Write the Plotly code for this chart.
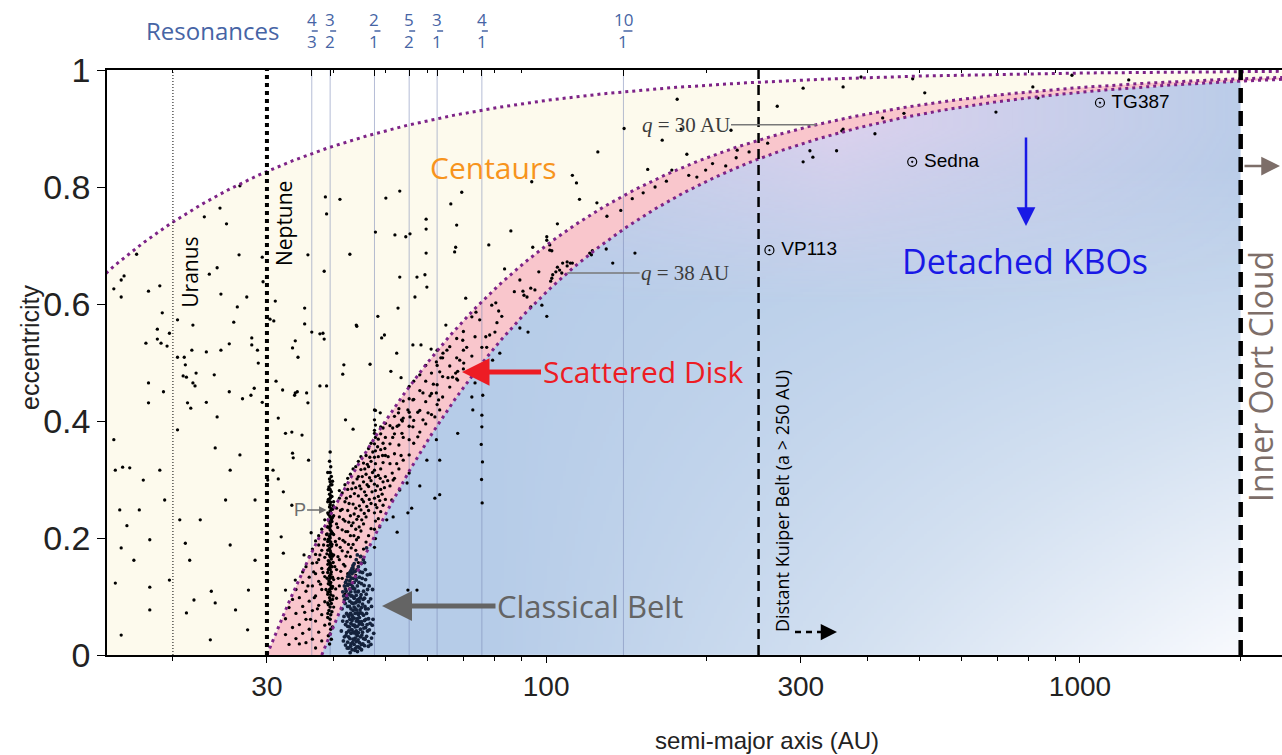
import numpy as np
import plotly.graph_objects as go

# ---------------- data ----------------
X_RANGE = [15.05, 2390.0]
Q_BOUNDS = [5.2, 30.0, 38.0]          # perihelion curves q = a(1-e)
URANUS_A = 20.0
NEPTUNE_A = 30.0
DKB_A = 250.0
IOC_A = 2000.0
RES_A = [36.4, 39.4, 47.7, 55.4, 62.5, 75.8, 139.6]
RES_NUM = ["4", "3", "2", "5", "3", "4", "10"]
RES_DEN = ["3", "2", "1", "2", "1", "1", "1"]
X_TICKS = [30, 100, 300, 1000]
X_TICKTEXT = ["30", "100", "300", "1000"]
X_MINOR = [20, 40, 50, 60, 70, 80, 90, 200, 400, 500, 600, 700, 800, 900, 2000]
Y_TICKS = [0, 0.2, 0.4, 0.6, 0.8, 1.0]
Y_TICKTEXT = ["0", "0.2", "0.4", "0.6", "0.8", "1"]
NAMED = ["VP113", "Sedna", "TG387"]
NAMED_A = [262, 485, 1090]
NAMED_E = [0.692, 0.843, 0.944]

CREAM_LEFT = [
    (26.7, 0.802), (24.5, 0.764), (22.9, 0.749), (25.2, 0.737), (17.1, 0.685), (26.6, 0.684), (29.4, 0.680),
    (24.2, 0.662), (23.4, 0.651), (16.2, 0.648), (16.0, 0.641), (15.5, 0.626), (18.9, 0.631), (18.0, 0.622),
    (16.0, 0.612), (24.6, 0.617), (27.5, 0.612), (29.5, 0.638), (26.4, 0.595), (31.1, 0.605), (19.1, 0.585),
    (20.4, 0.573), (21.8, 0.564), (26.0, 0.569), (30.4, 0.574), (30.9, 0.571), (18.7, 0.557), (19.7, 0.550),
    (28.1, 0.542), (17.8, 0.533), (18.7, 0.540), (19.0, 0.533), (19.5, 0.528), (25.5, 0.532), (28.1, 0.530),
    (21.7, 0.521), (23.1, 0.518), (24.6, 0.521), (28.8, 0.521), (20.4, 0.509), (21.0, 0.509), (21.1, 0.496),
    (28.9, 0.499), (22.1, 0.482), (20.9, 0.477), (21.2, 0.475), (23.9, 0.479), (18.0, 0.465), (21.8, 0.465),
    (22.0, 0.460), (31.2, 0.468), (19.2, 0.450), (25.5, 0.450), (28.4, 0.456), (28.0, 0.444), (27.0, 0.438),
    (18.0, 0.431), (21.3, 0.431), (21.6, 0.422), (23.1, 0.432), (29.4, 0.432), (24.2, 0.407), (31.5, 0.405),
    (15.5, 0.368), (16.1, 0.321), (15.6, 0.316), (16.6, 0.320), (17.6, 0.299), (16.4, 0.221), (16.0, 0.183),
    (18.1, 0.197), (21.1, 0.191), (15.6, 0.123), (18.1, 0.116), (16.0, 0.034), (21.2, 0.072), (23.6, 0.109),
    (24.0, 0.089), (21.5, 0.162), (25.6, 0.316), (26.7, 0.342), (28.5, 0.265), (22.5, 0.231), (25.6, 0.188),
    (28.5, 0.162), (27.7, 0.111), (20.4, 0.385), (24.0, 0.354), (18.9, 0.316), (19.3, 0.265), (17.3, 0.248),
    (25.1, 0.265), (20.6, 0.231), (27.6, 0.043), (23.5, 0.026), (26.2, 0.077), (18.1, 0.077), (19.7, 0.128),
    (21.9, 0.094), (15.9, 0.248), (16.9, 0.162),
    (32.1, 0.453), (33.9, 0.448), (32.5, 0.379), (33.4, 0.381), (34.9, 0.376), (33.5, 0.345), (33.6, 0.337),
    (35.9, 0.333), (30.8, 0.316), (31.5, 0.301), (30.1, 0.299), (32.2, 0.279), (33.4, 0.256), (36.3, 0.209),
    (31.9, 0.202), (32.2, 0.174), (35.2, 0.171), (32.5, 0.111), (33.9, 0.128),
]

CREAM_MID = [
    (38.6, 0.783), (41.1, 0.779), (38.8, 0.754), (42.9, 0.685), (35.8, 0.684), (38.4, 0.656), (35.3, 0.593),
    (35.3, 0.566), (36.4, 0.552), (37.7, 0.549), (38.2, 0.550), (38.4, 0.540), (33.5, 0.525), (33.9, 0.537),
    (34.3, 0.509), (41.8, 0.496), (41.6, 0.480), (37.7, 0.460), (38.8, 0.460), (34.2, 0.450), (33.8, 0.444),
    (35.6, 0.448), (35.8, 0.431), (44.1, 0.564),
    (53.2, 0.793), (69.5, 0.791), (50.1, 0.781), (66.3, 0.771), (114, 0.807), (94.0, 0.809), (115.5, 0.779),
    (124.5, 0.773), (105, 0.737), (85.9, 0.725), (68.0, 0.735), (59.6, 0.745), (59.6, 0.728), (47.9, 0.723),
    (52.1, 0.718), (54.6, 0.715), (55.6, 0.720), (78.1, 0.701), (67.7, 0.697), (67.4, 0.689), (59.6, 0.687),
    (100.3, 0.709), (101.6, 0.692), (94.4, 0.697), (53.2, 0.646), (57.3, 0.646), (59.3, 0.650), (59.8, 0.629),
    (56.8, 0.612), (70.7, 0.610), (52.8, 0.593), (48.4, 0.579), (44.2, 0.562), (64.9, 0.564), (49.2, 0.542),
    (49.8, 0.547), (56.3, 0.530), (58.3, 0.530), (52.5, 0.516), (60.9, 0.523), (46.8, 0.497), (51.2, 0.485),
    (53.5, 0.474), (47.7, 0.419), (48.9, 0.414), (42.1, 0.402), (43.5, 0.386),
    (112, 0.82), (125, 0.86), (140, 0.90), (155, 0.83), (165, 0.88),
]

FAR_PTS = [
    (176, 0.950), (179, 0.899), (222, 0.897), (271, 0.938), (303, 0.969), (360, 0.971), (183.5, 0.856),
    (228, 0.863), (227, 0.850), (217, 0.836), (199, 0.829), (191.6, 0.817), (172, 0.829), (360, 0.899),
    (303, 0.843), (312, 0.862), (316, 0.851), (350, 0.862), (512, 0.961), (696, 0.928), (816, 0.971),
    (427, 0.918), (468, 0.926), (413, 0.891), (358, 0.896), (389, 0.988), (486, 0.985), (966, 0.991),
    (1234, 0.983), (834, 0.952),
    (100.3, 0.715), (101.6, 0.701), (102.5, 0.691), (120.7, 0.687), (121.6, 0.684), (122.1, 0.691),
    (129.6, 0.694), (146.7, 0.687), (133.3, 0.670), (107.4, 0.670), (109.5, 0.672), (112, 0.670),
    (105, 0.663), (104.3, 0.655), (102.5, 0.644),
    (130, 0.75), (138, 0.76), (145, 0.78), (152, 0.79), (160, 0.80), (168, 0.81), (185, 0.82), (205, 0.84),
    (240, 0.86), (260, 0.875),
]

BAND_UPPER = [
    (83.6, 0.660), (96.9, 0.655), (89.3, 0.641), (87.2, 0.621), (90.5, 0.622), (90.9, 0.615), (92.1, 0.612),
    (93.6, 0.627), (95.3, 0.624), (102, 0.639), (102.9, 0.650), (106, 0.658), (107, 0.653), (109.5, 0.665),
    (111, 0.670), (80.5, 0.602), (79.1, 0.598), (81.5, 0.588), (82.6, 0.579), (80.9, 0.568), (80.2, 0.552),
    (78.4, 0.547), (77.1, 0.544), (75.8, 0.526), (77.4, 0.526), (73.6, 0.544), (73.9, 0.586), (75.1, 0.573),
    (72.6, 0.578), (69.8, 0.538), (71.0, 0.526), (72.6, 0.511), (68.9, 0.504), (70.1, 0.499), (67.7, 0.482),
    (68.3, 0.485), (66.8, 0.475), (68.3, 0.470), (65.5, 0.474), (63.2, 0.484), (62.3, 0.501), (63.5, 0.508),
    (64.1, 0.516), (65.2, 0.521), (61.5, 0.463), (62.3, 0.448), (62.9, 0.436), (63.2, 0.419), (60.6, 0.443),
    (58.8, 0.448), (57.5, 0.415), (56.3, 0.436), (55.1, 0.419), (55.6, 0.407), (53.8, 0.400), (52.9, 0.414),
    (51.6, 0.388), (53.7, 0.379), (56.3, 0.390), (58.8, 0.402), (60.1, 0.414), (61.9, 0.407), (57.5, 0.373),
    (47.7, 0.379), (49.0, 0.390),
]

BAND_LOWER = [
    (32.5, 0.035), (32.5, 0.062), (33.0, 0.018), (33.0, 0.081), (33.5, 0.047), (33.5, 0.095),
    (34.0, 0.028), (34.0, 0.071), (34.0, 0.112), (34.5, 0.052), (34.5, 0.098), (34.5, 0.019),
    (35.0, 0.037), (35.0, 0.083), (35.0, 0.124), (35.0, 0.142), (35.5, 0.061), (35.5, 0.109), (35.5, 0.021),
    (35.5, 0.151), (36.0, 0.044), (36.0, 0.092), (36.0, 0.133), (36.0, 0.168), (36.5, 0.027), (36.5, 0.076),
    (36.5, 0.118), (36.5, 0.157), (36.5, 0.181), (37.0, 0.058), (37.0, 0.101), (37.0, 0.139), (37.0, 0.172),
    (37.0, 0.195), (37.0, 0.012), (37.5, 0.039), (37.5, 0.085), (37.5, 0.126), (37.5, 0.163), (37.5, 0.204),
    (37.5, 0.188), (38.0, 0.069), (38.0, 0.112), (38.0, 0.148), (38.0, 0.179), (38.0, 0.215), (38.0, 0.024),
    (38.5, 0.091), (38.5, 0.134), (38.5, 0.167), (38.5, 0.198), (38.5, 0.231), (38.5, 0.051),
    (39.0, 0.108), (39.0, 0.155), (39.0, 0.187), (39.0, 0.219), (39.0, 0.243), (39.0, 0.071),
    (40.0, 0.082), (40.0, 0.129), (40.0, 0.171), (40.0, 0.206), (40.0, 0.238), (40.0, 0.262),
    (40.5, 0.097), (40.5, 0.146), (40.5, 0.188), (40.5, 0.224), (40.5, 0.251),
    (41.0, 0.118), (41.0, 0.163), (41.0, 0.199), (41.0, 0.236), (41.0, 0.268), (41.0, 0.281),
    (41.5, 0.131), (41.5, 0.178), (41.5, 0.214), (41.5, 0.249), (41.5, 0.277),
    (42.0, 0.104), (42.0, 0.152), (42.0, 0.193), (42.0, 0.229), (42.0, 0.262), (42.0, 0.291),
    (42.5, 0.139), (42.5, 0.176), (42.5, 0.211), (42.5, 0.247), (42.5, 0.283), (42.5, 0.302),
    (43.0, 0.121), (43.0, 0.168), (43.0, 0.204), (43.0, 0.238), (43.0, 0.271), (43.0, 0.309),
    (43.5, 0.147), (43.5, 0.189), (43.5, 0.226), (43.5, 0.258), (43.5, 0.294), (43.5, 0.318),
    (44.0, 0.136), (44.0, 0.179), (44.0, 0.215), (44.0, 0.251), (44.0, 0.286), (44.0, 0.322),
    (44.5, 0.158), (44.5, 0.201), (44.5, 0.237), (44.5, 0.272), (44.5, 0.305), (44.5, 0.331),
    (45.0, 0.169), (45.0, 0.212), (45.0, 0.248), (45.0, 0.284), (45.0, 0.317), (45.0, 0.339),
    (45.5, 0.181), (45.5, 0.224), (45.5, 0.262), (45.5, 0.296), (45.5, 0.328),
    (46.0, 0.193), (46.0, 0.236), (46.0, 0.273), (46.0, 0.309), (46.0, 0.341),
    (46.5, 0.204), (46.5, 0.247), (46.5, 0.288), (46.5, 0.322), (46.5, 0.353),
    (47.0, 0.216), (47.0, 0.259), (47.0, 0.298), (47.0, 0.331), (47.0, 0.362),
    (47.7, 0.184), (47.7, 0.215), (47.7, 0.243), (47.7, 0.268), (47.7, 0.292), (47.7, 0.316), (47.7, 0.338),
    (47.7, 0.361), (47.7, 0.384), (47.7, 0.402), (47.9, 0.199), (47.9, 0.229), (47.9, 0.257), (47.9, 0.281),
    (47.9, 0.305), (47.9, 0.327), (47.9, 0.349), (47.9, 0.372), (47.9, 0.393), (47.9, 0.418),
    (48.5, 0.233), (48.5, 0.271), (48.5, 0.307), (48.5, 0.339), (48.5, 0.369),
    (49.0, 0.245), (49.0, 0.283), (49.0, 0.318), (49.0, 0.351), (49.0, 0.378),
    (49.5, 0.256), (49.5, 0.296), (49.5, 0.329), (49.5, 0.362), (49.5, 0.388),
    (50.0, 0.266), (50.0, 0.305), (50.0, 0.341), (50.0, 0.372), (50.0, 0.396),
    (51.0, 0.289), (51.0, 0.327), (51.0, 0.361), (51.0, 0.392), (52.0, 0.302), (52.0, 0.344), (52.0, 0.378),
    (52.0, 0.408), (53.0, 0.318), (53.0, 0.359), (53.0, 0.393), (53.0, 0.421), (54.0, 0.333), (54.0, 0.372),
    (54.0, 0.405), (54.0, 0.434), (55.4, 0.311), (55.4, 0.342), (55.4, 0.368), (55.4, 0.391), (55.4, 0.415),
    (55.4, 0.438), (55.4, 0.459), (56.5, 0.362), (56.5, 0.401), (56.5, 0.437), (56.5, 0.468),
    (58.0, 0.381), (58.0, 0.418), (58.0, 0.452), (58.0, 0.479), (59.5, 0.395), (59.5, 0.433), (59.5, 0.468),
    (59.5, 0.495), (61.0, 0.411), (61.0, 0.447), (61.0, 0.482), (62.5, 0.428), (62.5, 0.462), (62.5, 0.495),
    (62.5, 0.521), (64.0, 0.441), (64.0, 0.476), (64.0, 0.508), (66.0, 0.458), (66.0, 0.494), (66.0, 0.527),
    (68.0, 0.472), (68.0, 0.508), (68.0, 0.541), (70.0, 0.489), (70.0, 0.521), (70.0, 0.553),
]

BAND_EXTRA = [
    (35.3, 0.073), (35.8, 0.118), (36.2, 0.061), (36.7, 0.142), (36.8, 0.098), (37.2, 0.158), (37.3, 0.079),
    (37.7, 0.171), (37.8, 0.121), (38.2, 0.141), (38.3, 0.188), (38.7, 0.112), (38.8, 0.206), (38.85, 0.173),
    (40.2, 0.151), (40.3, 0.194), (40.35, 0.113), (40.7, 0.218), (40.75, 0.168), (40.8, 0.131), (41.15, 0.184),
    (41.2, 0.247), (41.25, 0.143), (41.65, 0.196), (41.7, 0.232), (41.75, 0.155), (42.15, 0.211), (42.2, 0.169),
    (42.25, 0.268), (42.65, 0.189), (42.7, 0.227), (42.75, 0.259), (43.15, 0.183), (43.2, 0.221), (43.25, 0.284),
    (43.65, 0.204), (43.7, 0.241), (43.75, 0.276), (44.15, 0.197), (44.2, 0.232), (44.25, 0.301), (44.65, 0.219),
    (44.7, 0.255), (44.75, 0.289), (45.15, 0.231), (45.2, 0.266), (45.25, 0.305), (45.65, 0.242), (45.7, 0.279),
    (45.75, 0.318), (46.15, 0.254), (46.2, 0.291), (46.25, 0.326), (46.65, 0.266), (46.7, 0.303), (46.75, 0.338),
    (47.2, 0.279), (47.3, 0.312), (47.35, 0.347), (48.2, 0.252), (48.3, 0.289), (48.35, 0.356), (48.8, 0.264),
    (48.9, 0.302), (49.3, 0.275), (49.4, 0.341), (49.8, 0.286), (49.9, 0.353), (50.5, 0.298), (50.6, 0.339),
    (51.5, 0.311), (51.6, 0.372), (52.5, 0.327), (52.6, 0.391), (53.5, 0.341), (53.6, 0.402),
]

RES32_PTS = [
    (39.4, 0.347), (39.3, 0.331), (39.5, 0.322), (39.4, 0.312), (39.6, 0.305), (39.3, 0.301), (39.4, 0.296),
    (39.5, 0.291), (39.2, 0.287), (39.4, 0.283), (39.6, 0.279), (39.3, 0.275), (39.5, 0.272), (39.4, 0.268),
    (39.2, 0.264), (39.5, 0.261), (39.4, 0.257), (39.3, 0.253), (39.6, 0.250), (39.4, 0.246), (39.5, 0.243),
    (39.3, 0.239), (39.4, 0.236), (39.6, 0.232), (39.2, 0.229), (39.4, 0.225), (39.5, 0.221), (39.3, 0.218),
    (39.4, 0.214), (39.6, 0.211), (39.5, 0.207), (39.3, 0.203), (39.4, 0.200), (39.2, 0.196), (39.5, 0.193),
    (39.4, 0.189), (39.6, 0.186), (39.3, 0.182), (39.4, 0.178), (39.5, 0.175), (39.3, 0.171), (39.4, 0.168),
    (39.6, 0.164), (39.2, 0.160), (39.4, 0.157), (39.5, 0.153), (39.3, 0.149), (39.4, 0.146), (39.6, 0.142),
    (39.5, 0.138), (39.3, 0.135), (39.4, 0.131), (39.2, 0.127), (39.5, 0.124), (39.4, 0.120), (39.6, 0.116),
    (39.3, 0.112), (39.4, 0.108), (39.5, 0.103), (39.3, 0.098), (39.4, 0.093), (39.6, 0.088), (39.4, 0.082),
    (39.2, 0.076), (39.5, 0.069), (39.4, 0.061), (39.3, 0.053), (39.5, 0.044), (39.4, 0.036), (39.6, 0.027),
    (39.3, 0.019),
    (39.0, 0.312), (39.8, 0.297), (39.1, 0.283), (39.7, 0.271), (39.0, 0.262), (39.8, 0.249), (39.1, 0.241),
    (39.7, 0.228), (39.0, 0.219), (39.8, 0.208), (39.1, 0.198), (39.7, 0.189), (39.0, 0.179), (39.8, 0.169),
    (39.1, 0.161), (39.7, 0.151), (39.0, 0.141), (39.8, 0.133), (39.1, 0.122), (39.7, 0.114), (39.0, 0.104),
    (39.8, 0.095), (39.1, 0.086), (39.7, 0.074), (39.0, 0.064), (39.8, 0.048), (39.1, 0.033), (39.7, 0.291),
    (39.1, 0.266), (39.8, 0.235), (39.0, 0.194), (39.7, 0.172), (39.1, 0.146), (39.8, 0.117), (39.0, 0.089),
    (39.9, 0.158), (38.9, 0.207), (39.9, 0.255), (38.9, 0.131), (39.9, 0.101),
]

CLASSICAL_PTS = [
    (41.6, 0.058), (41.6, 0.108), (41.9, 0.031), (41.9, 0.094), (41.9, 0.118), (42.1, 0.052), (42.1, 0.113),
    (42.1, 0.124), (42.1, 0.017), (42.3, 0.071), (42.3, 0.128), (42.3, 0.038), (42.3, 0.099), (42.5, 0.022),
    (42.5, 0.083), (42.5, 0.119), (42.5, 0.134), (42.5, 0.049), (42.7, 0.041), (42.7, 0.104), (42.7, 0.137),
    (42.7, 0.066), (42.7, 0.012), (42.9, 0.028), (42.9, 0.061), (42.9, 0.092), (42.9, 0.134), (42.9, 0.141),
    (42.9, 0.113), (43.1, 0.019), (43.1, 0.054), (43.1, 0.079), (43.1, 0.121), (43.1, 0.101), (43.1, 0.144),
    (43.1, 0.037), (43.3, 0.009), (43.3, 0.043), (43.3, 0.068), (43.3, 0.101), (43.3, 0.139), (43.3, 0.059),
    (43.3, 0.148), (43.5, 0.027), (43.5, 0.051), (43.5, 0.088), (43.5, 0.114), (43.5, 0.153), (43.5, 0.076),
    (43.5, 0.131), (43.7, 0.018), (43.7, 0.063), (43.7, 0.082), (43.7, 0.124), (43.7, 0.039), (43.7, 0.156),
    (43.7, 0.097), (43.9, 0.011), (43.9, 0.048), (43.9, 0.071), (43.9, 0.108), (43.9, 0.143), (43.9, 0.029),
    (43.9, 0.089), (44.1, 0.023), (44.1, 0.041), (44.1, 0.077), (44.1, 0.102), (44.1, 0.128), (44.1, 0.058),
    (44.1, 0.163), (44.3, 0.033), (44.3, 0.062), (44.3, 0.094), (44.3, 0.118), (44.3, 0.049), (44.3, 0.171),
    (44.5, 0.014), (44.5, 0.038), (44.5, 0.069), (44.5, 0.109), (44.5, 0.151), (44.5, 0.084), (44.7, 0.021),
    (44.7, 0.053), (44.7, 0.091), (44.7, 0.133), (44.7, 0.064), (44.9, 0.031), (44.9, 0.072), (44.9, 0.098),
    (44.9, 0.044), (44.9, 0.168), (45.1, 0.018), (45.1, 0.057), (45.1, 0.081), (45.1, 0.122), (45.3, 0.039),
    (45.3, 0.087), (45.3, 0.052), (45.3, 0.141), (45.5, 0.028), (45.5, 0.068), (45.5, 0.109), (45.7, 0.016),
    (45.7, 0.059), (45.7, 0.097), (45.7, 0.158), (45.9, 0.047), (45.9, 0.079), (45.9, 0.129), (46.1, 0.032),
    (46.1, 0.071), (46.1, 0.183), (46.3, 0.041), (46.3, 0.112), (46.5, 0.062), (46.5, 0.091), (46.5, 0.023),
    (46.8, 0.054), (46.8, 0.138), (47.1, 0.029), (47.1, 0.083), (47.4, 0.061),
    (41.35, 0.041), (41.48, 0.079), (41.72, 0.024), (41.77, 0.101), (41.83, 0.066), (42.04, 0.088),
    (42.18, 0.033), (42.22, 0.109), (42.37, 0.057), (42.41, 0.012), (42.44, 0.097), (42.58, 0.068),
    (42.63, 0.121), (42.66, 0.031), (42.81, 0.083), (42.84, 0.048), (42.88, 0.127), (43.02, 0.071),
    (43.04, 0.015), (43.08, 0.108), (43.18, 0.043), (43.22, 0.131), (43.26, 0.089), (43.38, 0.021),
    (43.41, 0.117), (43.44, 0.064), (43.57, 0.038), (43.61, 0.099), (43.64, 0.142), (43.78, 0.051),
    (43.81, 0.113), (43.84, 0.008), (43.97, 0.079), (44.02, 0.132), (44.06, 0.036), (44.18, 0.091),
    (44.21, 0.014), (44.24, 0.146), (44.37, 0.072), (44.41, 0.108), (44.44, 0.026), (44.58, 0.057),
    (44.61, 0.124), (44.64, 0.096), (44.77, 0.012), (44.81, 0.077), (44.84, 0.142), (44.97, 0.054),
    (45.02, 0.103), (45.06, 0.157), (45.18, 0.034), (45.22, 0.071), (45.24, 0.131), (45.38, 0.019),
    (45.42, 0.095), (45.46, 0.163), (45.58, 0.046), (45.62, 0.119), (45.78, 0.083), (45.82, 0.027),
    (45.86, 0.146), (45.98, 0.061), (46.03, 0.104), (46.21, 0.052), (46.25, 0.137), (46.42, 0.079),
    (46.46, 0.015), (46.62, 0.118), (46.66, 0.043), (46.92, 0.096), (46.97, 0.018), (47.25, 0.051),
    (47.31, 0.112), (47.55, 0.037), (42.95, 0.004), (43.67, 0.026), (44.33, 0.006), (45.11, 0.009),
    (43.45, 0.149),
]

BLUE_PTS = [
    (92.5, 0.552), (89.3, 0.559), (100.3, 0.579), (98.2, 0.598), (93.6, 0.595), (81.9, 0.516), (79.4, 0.504),
    (73.6, 0.465), (72.6, 0.441), (72.9, 0.419), (75.8, 0.390), (76.1, 0.444),
    (58.0, 0.289), (61.9, 0.268), (63.2, 0.274), (56.0, 0.251), (55.1, 0.243), (51.7, 0.236), (52.6, 0.210),
    (55.1, 0.111), (57.3, 0.111), (68.3, 0.379), (62.3, 0.368), (63.2, 0.333), (59.8, 0.333), (50.3, 0.231),
    (48.8, 0.219), (51.7, 0.299), (53.2, 0.282), (54.9, 0.294), (51.4, 0.265),
    (75.8, 0.41), (75.6, 0.36), (76.0, 0.33), (75.7, 0.30), (75.9, 0.26),
]

# ---------------- styles ----------------
PURPLE = "rgb(125,35,135)"
CREAM = "rgb(253,250,237)"
PINK = "rgb(249,198,204)"
RES_BLUE = "rgb(70,100,165)"
SANS = "Liberation Sans, Arial, sans-serif"
MYRIAD = "Open Sans, Noto Sans, sans-serif"

xmin, xmax = np.log10(X_RANGE[0]), np.log10(X_RANGE[1])


def unpack(pts):
    return [p[0] for p in pts], [p[1] for p in pts]


fig = go.Figure()

# ---- background gradient for the detached region (below q = 38 AU, a < 2000 AU)
a_edges = np.logspace(np.log10(37.0), np.log10(IOC_A), 301)
e_edges = np.linspace(0.0, 0.99, 221)
ac = np.sqrt(a_edges[:-1] * a_edges[1:])
ec = 0.5 * (e_edges[:-1] + e_edges[1:])
A, E = np.meshgrid(ac, ec)
U = (np.log10(A) - xmin) / (xmax - xmin)
mask = E <= 1 - 36.0 / A
W = np.clip(1.6 * (U - 0.33), 0, 1) * np.clip(1 - 1.2 * E, 0, 1)
Z = np.where(mask, np.round(W, 3), np.nan)
L = np.clip((E - 0.6) / 0.3, 0, 1) * np.clip(1 - np.abs(U - 0.62) / 0.4, 0, 1)
Z2 = np.where(mask, np.round(L, 3), np.nan)

fig.add_trace(go.Heatmap(
    x=a_edges, y=e_edges, z=Z, zmin=0, zmax=1, showscale=False, hoverinfo="skip",
    colorscale=[[0, "rgb(182,204,232)"], [0.5, "rgb(212,225,241)"], [1, "rgb(247,249,253)"]]))
fig.add_trace(go.Heatmap(
    x=a_edges, y=e_edges, z=Z2, zmin=0, zmax=1, showscale=False, hoverinfo="skip",
    colorscale=[[0, "rgba(228,210,238,0)"], [1, "rgba(228,210,238,0.8)"]]))

# ---- cream (between q=5.2 and q=30) and pink (scattered disk, q=30..38) regions
a_top = np.logspace(np.log10(14.0), np.log10(2600.0), 400)
a_q30 = np.logspace(np.log10(Q_BOUNDS[1]), np.log10(2600.0), 400)
a_q38 = np.logspace(np.log10(Q_BOUNDS[2]), np.log10(2600.0), 400)
e_top = 1 - Q_BOUNDS[0] / a_top
e_q30 = 1 - Q_BOUNDS[1] / a_q30
e_q38 = 1 - Q_BOUNDS[2] / a_q38

fig.add_trace(go.Scatter(
    x=list(a_top) + list(a_q30[::-1]) + [14.0],
    y=list(e_top) + list(e_q30[::-1]) + [0.0],
    fill="toself", fillcolor=CREAM, mode="lines", line=dict(width=0), hoverinfo="skip"))
fig.add_trace(go.Scatter(
    x=list(a_q30) + list(a_q38[::-1]),
    y=list(e_q30) + list(e_q38[::-1]),
    fill="toself", fillcolor=PINK, mode="lines", line=dict(width=0), hoverinfo="skip"))

# ---- resonance lines
rx, ry = [], []
for a in RES_A:
    rx += [a, a, None]
    ry += [0, 1, None]
fig.add_trace(go.Scatter(x=rx, y=ry, mode="lines", hoverinfo="skip",
                         line=dict(color="rgba(120,135,180,0.55)", width=1)))

# ---- object points
for pts, col, sz in [(CREAM_LEFT, "black", 3.3), (CREAM_MID, "black", 3.3), (FAR_PTS, "black", 3.3),
                     (BAND_UPPER, "black", 3.3), (BAND_LOWER, "black", 3.3), (BAND_EXTRA, "black", 3.3),
                     (RES32_PTS, "black", 3.5), (BLUE_PTS, "black", 3.3),
                     (CLASSICAL_PTS, "rgb(20,34,60)", 3.8)]:
    xs, ys = unpack(pts)
    fig.add_trace(go.Scatter(x=xs, y=ys, mode="markers", hoverinfo="skip",
                             marker=dict(size=sz, color=col, line=dict(width=0))))

# ---- perihelion curves (dotted purple)
for q, aa in zip(Q_BOUNDS, [a_top, a_q30, a_q38]):
    fig.add_trace(go.Scatter(x=aa, y=1 - q / aa, mode="lines", hoverinfo="skip",
                             line=dict(color=PURPLE, width=3, dash="3px,4px")))

# ---- planet / region boundary lines
fig.add_trace(go.Scatter(x=[URANUS_A, URANUS_A], y=[0, 1], mode="lines", hoverinfo="skip",
                         line=dict(color="black", width=1, dash="1px,2px")))
fig.add_trace(go.Scatter(x=[NEPTUNE_A, NEPTUNE_A], y=[0, 1], mode="lines", hoverinfo="skip",
                         line=dict(color="black", width=4, dash="4px,4px")))
fig.add_trace(go.Scatter(x=[DKB_A, DKB_A], y=[0, 1], mode="lines", hoverinfo="skip",
                         line=dict(color="black", width=2.5, dash="10px,6px")))
fig.add_trace(go.Scatter(x=[IOC_A, IOC_A], y=[0, 1], mode="lines", hoverinfo="skip",
                         line=dict(color="black", width=4.5, dash="15px,8px")))

# ---- named detached objects
fig.add_trace(go.Scatter(x=NAMED_A, y=NAMED_E, mode="markers+text", text=[" " + n for n in NAMED],
                         textposition="middle right", hoverinfo="skip",
                         textfont=dict(family=SANS, size=19, color="black"),
                         marker=dict(symbol="circle-open-dot", size=9, color="black",
                                     line=dict(width=1.2, color="black"))))

# dummy trace for top axis
fig.add_trace(go.Scatter(x=[100], y=[0.5], xaxis="x2", mode="markers",
                         marker=dict(opacity=0), hoverinfo="skip"))


def px_x(p):
    return (p - 107) / 1175.0


def px_y(p):
    return (655 - p) / 585.0


def label(text, x, y, size, color, family=MYRIAD, xref="paper", yref="paper", angle=0):
    return dict(text=text, xref=xref, yref=yref, x=x, y=y, showarrow=False, textangle=angle,
                xanchor="center", yanchor="middle", font=dict(family=family, size=size, color=color))


ann = []
shapes = []
ann.append(label("Resonances", px_x(212), px_y(30), 24, RES_BLUE))
for a, n, d in zip(RES_A, RES_NUM, RES_DEN):
    ann.append(label(n, np.log10(a), px_y(19), 17, RES_BLUE, xref="x"))
    ann.append(label(d, np.log10(a), px_y(42), 17, RES_BLUE, xref="x"))
    hw = 9 if len(n) > 1 else 6
    shapes.append(dict(type="line", xref="x", xsizemode="pixel", xanchor=a, x0=-hw, x1=hw,
                       yref="paper", y0=px_y(31), y1=px_y(31),
                       line=dict(color=RES_BLUE, width=1.5)))

ann.append(label("Uranus", np.log10(21.5), px_y(272), 21, "black", xref="x", angle=-90))
ann.append(label("Neptune", np.log10(32.3), px_y(223), 21, "black", xref="x", angle=-90))
ann.append(label("Centaurs", px_x(493), px_y(168), 30, "rgb(247,148,29)"))
ann.append(dict(text="Scattered Disk", xref="paper", yref="paper", x=px_x(462), y=px_y(372),
                ax=181, ay=0, showarrow=True, arrowhead=2, arrowsize=1.1, arrowwidth=5,
                arrowcolor="rgb(237,28,36)",
                font=dict(family=MYRIAD, size=30, color="rgb(237,28,36)")))
ann.append(dict(text="Classical Belt", xref="paper", yref="paper", x=px_x(382), y=px_y(606),
                ax=208, ay=0, showarrow=True, arrowhead=2, arrowsize=1.2, arrowwidth=5,
                arrowcolor="rgb(100,100,100)",
                font=dict(family=MYRIAD, size=31, color="rgb(100,100,100)")))
ann.append(label("Detached KBOs", px_x(1025), px_y(261), 34, "rgb(25,25,230)"))
ann.append(dict(text="", xref="paper", yref="paper", x=px_x(1026), y=px_y(226), ax=0, ay=-90,
                showarrow=True, arrowhead=2, arrowsize=1.5, arrowwidth=2.5, arrowcolor="rgb(25,25,230)"))
ann.append(label("Inner Oort Cloud", px_x(1260), px_y(377), 32, "rgb(125,110,105)", angle=-90))
ann.append(dict(text="", xref="paper", yref="paper", x=px_x(1280), y=px_y(166), ax=-37, ay=0,
                showarrow=True, arrowhead=2, arrowsize=1.5, arrowwidth=2.5, arrowcolor="rgb(125,110,105)"))
ann.append(label("Distant Kuiper Belt (a > 250 AU)", np.log10(276.7), px_y(501), 18, "black",
                 xref="x", angle=-90))
shapes.append(dict(type="line", xref="paper", yref="paper", x0=px_x(795), x1=px_x(826),
                   y0=px_y(632), y1=px_y(632), line=dict(color="black", width=2.5, dash="6px,5px")))
ann.append(dict(text="", xref="paper", yref="paper", x=px_x(837), y=px_y(632), ax=-8, ay=0,
                showarrow=True, arrowhead=2, arrowsize=1.3, arrowwidth=2.5, arrowcolor="black"))
ann.append(dict(text="<i>q</i> = 30 AU", xref="x", yref="y", x=np.log10(321), y=1 - Q_BOUNDS[1] / 321,
                ax=-131, ay=0, showarrow=True, arrowhead=0, arrowwidth=1.5, arrowcolor="rgb(120,120,120)",
                font=dict(family="Liberation Serif, DejaVu Serif, serif", size=21, color="rgb(60,60,60)")))
ann.append(dict(text="<i>q</i> = 38 AU", xref="x", yref="y", x=np.log10(109.5), y=1 - Q_BOUNDS[2] / 109.5,
                ax=118, ay=0, showarrow=True, arrowhead=0, arrowwidth=1.5, arrowcolor="rgb(120,120,120)",
                font=dict(family="Liberation Serif, DejaVu Serif, serif", size=21, color="rgb(60,60,60)")))
ann.append(dict(text="P", xref="x", yref="paper", x=np.log10(38.8), y=px_y(510), ax=-27, ay=0,
                showarrow=True, arrowhead=2, arrowsize=1, arrowwidth=1.5, arrowcolor="rgb(110,110,110)",
                font=dict(family=SANS, size=18, color="rgb(110,110,110)")))
ann.append(label("eccentricity", px_x(30), px_y(347), 25, "#222", family=SANS, angle=-90))
ann.append(label("semi-major axis (AU)", px_x(767), px_y(740), 24, "#222", family=SANS))

fig.update_layout(
    width=1282, height=755,
    margin=dict(l=107, r=0, t=70, b=100),
    paper_bgcolor="white", plot_bgcolor="white",
    showlegend=False, hovermode=False,
    annotations=ann, shapes=shapes,
    xaxis=dict(type="log", range=[xmin, xmax], tickmode="array", tickvals=X_TICKS,
               ticktext=X_TICKTEXT, ticks="outside", ticklen=6, tickwidth=1.2, tickcolor="black",
               showline=True, linecolor="black", linewidth=1.5, mirror=True, showgrid=False,
               zeroline=False, tickfont=dict(family=SANS, size=28, color="#222"),
               minor=dict(tickmode="array", tickvals=X_MINOR, ticks="outside", ticklen=4,
                          tickcolor="black", showgrid=False)),
    xaxis2=dict(type="log", range=[xmin, xmax], overlaying="x", side="top", tickmode="array",
                tickvals=RES_A, ticks="inside", ticklen=6, tickcolor="black", showticklabels=False,
                showgrid=False, showline=False, zeroline=False,
                minor=dict(tickmode="array", tickvals=X_MINOR, ticks="inside", ticklen=3,
                           tickcolor="black", showgrid=False)),
    yaxis=dict(range=[0, 1], tickmode="array", tickvals=Y_TICKS, ticktext=Y_TICKTEXT,
               ticks="outside", ticklen=8, tickcolor="black", showline=True, linecolor="black",
               linewidth=1.5, showgrid=False, zeroline=False,
               tickfont=dict(family=SANS, size=34, color="#222")),
)

fig.write_html("out.html")
